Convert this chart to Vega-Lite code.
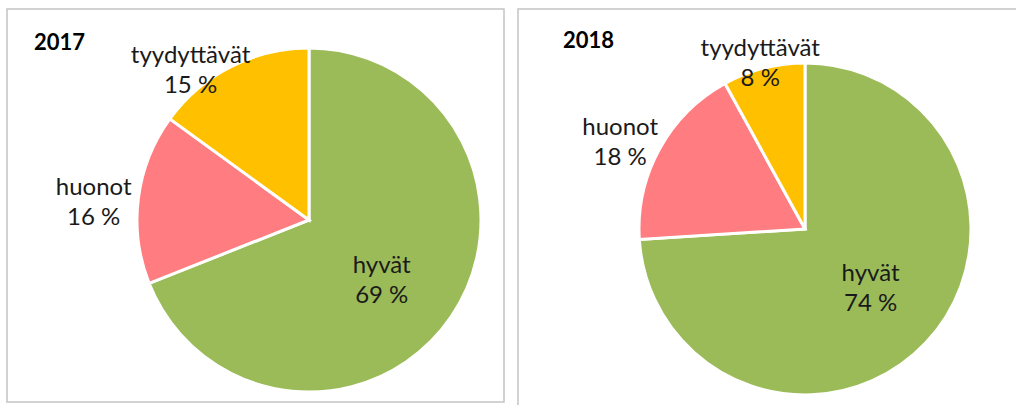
{
  "$schema": "https://vega.github.io/schema/vega-lite/v6.json",
  "padding": {"left": 6, "top": 8, "right": 0, "bottom": 0},
  "background": "white",
  "spacing": 12,
  "config": {
    "view": {"stroke": "#c4c4c4", "strokeWidth": 1.5},
    "text": {"font": "Lato", "fontSize": 24, "color": "#1a1a1a", "align": "center", "baseline": "middle", "lineBreak": "\n", "lineHeight": 30},
    "title": {"font": "Lato", "fontSize": 22, "fontWeight": "bold", "color": "#000000", "anchor": "start", "frame": "group", "baseline": "alphabetic"}
  },
  "datasets": {
    "v2017": [
      {"luokka": "hyvät", "osuus": 69, "jarjestys": 1},
      {"luokka": "huonot", "osuus": 16, "jarjestys": 2},
      {"luokka": "tyydyttävät", "osuus": 15, "jarjestys": 3}
    ],
    "v2018": [
      {"luokka": "hyvät", "osuus": 74, "jarjestys": 1},
      {"luokka": "huonot", "osuus": 18, "jarjestys": 2},
      {"luokka": "tyydyttävät", "osuus": 8, "jarjestys": 3}
    ]
  },
  "hconcat": [
    {
      "width": 497,
      "height": 393,
      "view": {"stroke": "#c4c4c4", "strokeWidth": 1.5},
      "data": {"name": "v2017"},
      "title": {"text": "2017", "offset": -46, "dx": 27},
      "transform": [{"calculate": "datum.luokka + '\\n' + datum.osuus + ' %'", "as": "teksti"}],
      "encoding": {
        "theta": {"field": "osuus", "type": "quantitative", "stack": true},
        "order": {"field": "jarjestys", "type": "quantitative"},
        "detail": {"field": "luokka", "type": "nominal"}
      },
      "layer": [
        {
          "mark": {"type": "arc", "radius": 172, "x": 302, "y": 211, "stroke": "white", "strokeWidth": 3},
          "encoding": {
            "color": {"field": "luokka", "type": "nominal", "scale": {"domain": ["hyvät", "huonot", "tyydyttävät"], "range": ["#9BBB59", "#FF7C80", "#FFC000"]}, "legend": null}
          }
        },
        {
          "mark": {"type": "text", "radius": 94, "x": 302, "y": 211, "dx": -5, "dy": -7},
          "encoding": {"text": {"condition": {"test": "datum.luokka === 'hyvät'", "field": "teksti"}, "value": ""}}
        },
        {
          "mark": {"type": "text", "radius": 216, "x": 302, "y": 211, "dx": -1, "dy": -5},
          "encoding": {"text": {"condition": {"test": "datum.luokka === 'huonot'", "field": "teksti"}, "value": ""}}
        },
        {
          "mark": {"type": "text", "radius": 186, "x": 302, "y": 211, "dx": -34, "dy": 2},
          "encoding": {"text": {"condition": {"test": "datum.luokka === 'tyydyttävät'", "field": "teksti"}, "value": ""}}
        }
      ]
    },
    {
      "width": 510,
      "height": 400,
      "view": {"stroke": "#c4c4c4", "strokeWidth": 1.5},
      "data": {"name": "v2018"},
      "title": {"text": "2018", "offset": -44, "dx": 45},
      "transform": [{"calculate": "datum.luokka + '\\n' + datum.osuus + ' %'", "as": "teksti"}],
      "encoding": {
        "theta": {"field": "osuus", "type": "quantitative", "stack": true},
        "order": {"field": "jarjestys", "type": "quantitative"},
        "detail": {"field": "luokka", "type": "nominal"}
      },
      "layer": [
        {
          "mark": {"type": "arc", "radius": 166, "x": 287, "y": 220, "stroke": "white", "strokeWidth": 3},
          "encoding": {
            "color": {"field": "luokka", "type": "nominal", "scale": {"domain": ["hyvät", "huonot", "tyydyttävät"], "range": ["#9BBB59", "#FF7C80", "#FFC000"]}, "legend": null}
          }
        },
        {
          "mark": {"type": "text", "radius": 90, "x": 287, "y": 220, "dx": 0, "dy": -17},
          "encoding": {"text": {"condition": {"test": "datum.luokka === 'hyvät'", "field": "teksti"}, "value": ""}}
        },
        {
          "mark": {"type": "text", "radius": 204, "x": 287, "y": 220, "dx": -6, "dy": -3},
          "encoding": {"text": {"condition": {"test": "datum.luokka === 'huonot'", "field": "teksti"}, "value": ""}}
        },
        {
          "mark": {"type": "text", "radius": 172, "x": 287, "y": 220, "dx": -2, "dy": -13},
          "encoding": {"text": {"condition": {"test": "datum.luokka === 'tyydyttävät'", "field": "teksti"}, "value": ""}}
        }
      ]
    }
  ]
}
